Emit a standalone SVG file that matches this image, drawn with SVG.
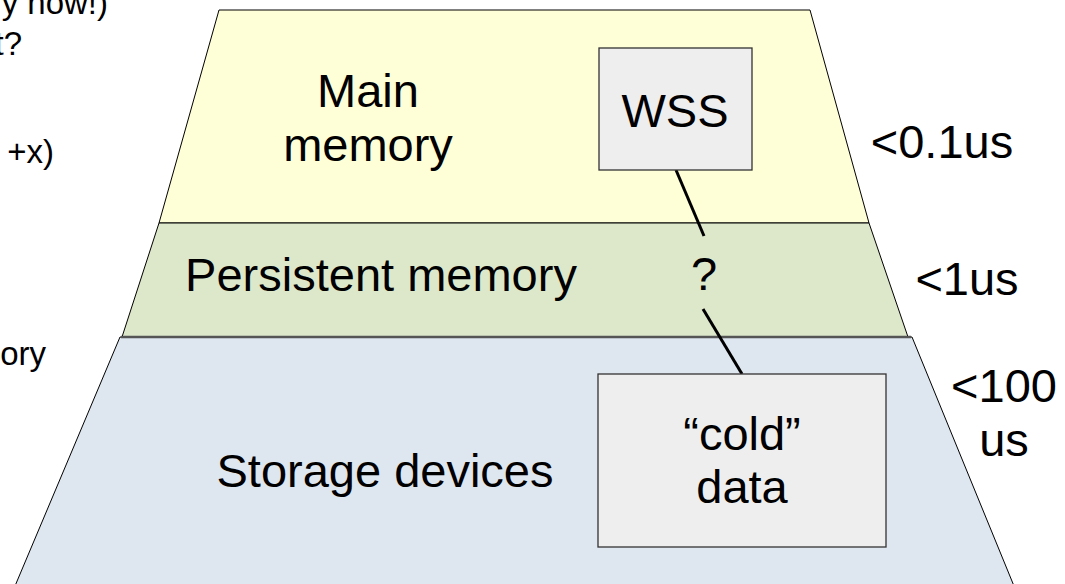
<svg xmlns="http://www.w3.org/2000/svg" width="1065" height="584" viewBox="0 0 1065 584">
<style>
text{font-family:"Liberation Sans",Arial,sans-serif;fill:#000}
.big{font-size:47px;text-anchor:middle}
.side{font-size:33px;text-anchor:end}
.layer{stroke:#000;stroke-width:1}
.box{fill:#eeeeee;stroke:#333;stroke-width:1.3}
.conn{stroke:#000;stroke-width:3;fill:none}
</style>
<rect width="1065" height="584" fill="#fff"/>
<g id="side-notes">
<text class="side" x="108" y="14">y now!)</text>
<text class="side" x="22" y="55">t?</text>
<text class="side" x="54" y="163">+x)</text>
<text class="side" x="46" y="365">ory</text>
</g>
<g id="main-memory">
<polygon class="layer" points="219,10 810,10 869,223 159,223" fill="#ffffd7"/>
<text class="big" x="368" y="107">Main</text>
<text class="big" x="368" y="161">memory</text>
</g>
<g id="persistent-memory">
<polygon class="layer" points="159,223 869,223 908,337 122,337" fill="#dde8cb"/>
<text class="big" x="381" y="291">Persistent memory</text>
</g>
<g id="storage-devices">
<polygon class="layer" points="120,337 912,337 1014,586 15,586" fill="#dee6ef"/>
<line x1="121" y1="337" x2="911" y2="337" stroke="#555" stroke-width="2.5"/>
<text class="big" x="385" y="487">Storage devices</text>
</g>
<g id="connectors">
<line class="conn" x1="676" y1="170" x2="704" y2="236"/>
<line class="conn" x1="703" y1="309" x2="742" y2="374"/>
</g>
<g id="wss">
<rect class="box" x="599" y="48" width="153" height="122"/>
<text class="big" x="675" y="127">WSS</text>
</g>
<g id="cold-data">
<rect class="box" x="598" y="374" width="288" height="173"/>
<text class="big" x="742" y="450">“cold”</text>
<text class="big" x="742" y="503">data</text>
</g>
<g id="question">
<text class="big" x="704" y="290">?</text>
</g>
<g id="latencies">
<text class="big" x="942" y="158">&lt;0.1us</text>
<text class="big" x="967" y="295">&lt;1us</text>
<text class="big" x="1004" y="402">&lt;100</text>
<text class="big" x="1004" y="456">us</text>
</g>
</svg>
